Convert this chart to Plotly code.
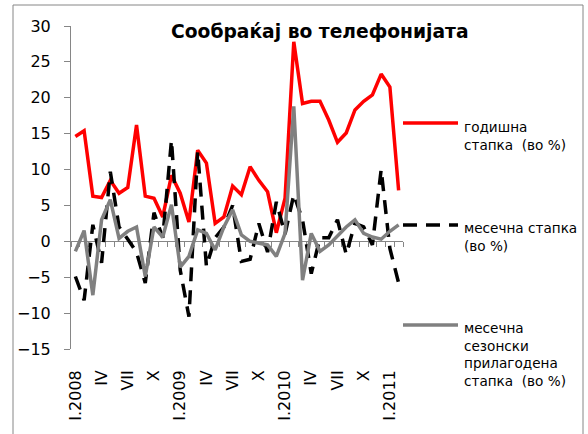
import plotly.graph_objects as go

roman = ["I", "II", "III", "IV", "V", "VI", "VII", "VIII", "IX", "X", "XI", "XII"]
months = [f"{roman[m]}.{y}" for y in (2008, 2009, 2010, 2011) for m in range(12)][:38]

annual = [14.6, 15.4, 6.3, 6.1, 8.5, 6.7, 7.5, 16.2, 6.3, 6.0, 3.4, 9.2, 6.7, 2.7, 12.7, 10.9,
          2.5, 3.4, 7.7, 6.5, 10.4, 8.5, 6.9, 1.2, 6.0, 27.8, 19.2, 19.5, 19.5, 16.9, 13.8, 15.1,
          18.3, 19.5, 20.4, 23.3, 21.5, 7.1]
monthly = [-4.9, -8.2, 2.3, -3.0, 9.7, 2.0, 0.3, -1.5, -5.8, 4.0, 0.5, 14.1, -4.0, -10.5, 12.5, -3.5,
           0.5, 2.0, 5.0, -2.8, -2.5, 2.5, -1.5, 5.5, 1.0, 6.5, 3.0, -4.5, 0.5, 0.5, 3.0, -1.8,
           2.5, 2.0, -0.5, 10.0, -1.0, -5.8]
seasonal = [-1.4, 1.5, -7.5, 3.0, 5.8, 0.4, 1.4, 2.0, -4.9, 2.0, 0.6, 5.1, -3.6, -2.1, 1.6, 1.1,
            -1.2, 2.0, 4.4, 0.9, 0.0, -0.2, -0.5, -2.1, 1.1, 18.8, -5.4, 1.1, -1.4, -0.5, 0.7, 2.0,
            3.0, 1.1, 0.6, 0.3, 1.4, 2.3]

tick_vals = ["I.2008", "IV.2008", "VII.2008", "X.2008", "I.2009", "IV.2009", "VII.2009", "X.2009",
             "I.2010", "IV.2010", "VII.2010", "X.2010", "I.2011"]
tick_text = ["I.2008", "IV", "VII", "X", "I.2009", "IV", "VII", "X", "I.2010", "IV", "VII", "X", "I.2011"]

title = "Сообраќај во телефонијата"
names = ["годишна<br>стапка  (во %)", "месечна стапка<br>(во %)",
         "месечна<br>сезонски<br>прилагодена<br>стапка  (во %)"]

RED, BLACK, GRAY, AX = "#FF0000", "#000000", "#808080", "#868686"
FONT = "DejaVu Sans, Verdana, sans-serif"
DASH = "14px,9px"

fig = go.Figure()
fig.add_trace(go.Scatter(x=months, y=annual, mode="lines", line=dict(color=RED, width=3.5),
                         xaxis="x", yaxis="y", name="annual"))
fig.add_trace(go.Scatter(x=months, y=monthly, mode="lines",
                         line=dict(color=BLACK, width=3.5, dash=DASH),
                         xaxis="x", yaxis="y", name="monthly"))
fig.add_trace(go.Scatter(x=months, y=seasonal, mode="lines", line=dict(color=GRAY, width=3.5),
                         xaxis="x2", yaxis="y", name="seasonal"))

W, H = 588, 434
L, R, T, B = 71, 185, 26, 85
pw, ph = W - L - R, H - T - B


def px(X):
    return (X - L) / pw


def py(Y):
    return (H - B - Y) / ph


fig.update_layout(
    width=W, height=H, margin=dict(l=L, r=R, t=T, b=B, autoexpand=False),
    paper_bgcolor="white", plot_bgcolor="white", showlegend=False,
    font=dict(family=FONT, color="black"),
    xaxis=dict(type="category", categoryorder="array", categoryarray=months,
               range=[-0.5, len(months) - 0.5], tickmode="array", tickvals=tick_vals,
               ticktext=tick_text, tickangle=-90, showline=False, ticks="", showgrid=False,
               zeroline=False, tickfont=dict(size=16, family=FONT), ticklabelstandoff=17,
               automargin=False),
    xaxis2=dict(type="category", categoryorder="array", categoryarray=months, overlaying="x",
                anchor="free", position=1 / 3, range=[-0.5, len(months) - 0.5],
                tickmode="linear", tick0=0, dtick=1, tickson="boundaries", ticks="outside",
                ticklen=5, tickcolor=AX, showline=True, linecolor=AX, linewidth=1,
                showticklabels=False, showgrid=False, zeroline=False, layer="below traces",
                automargin=False),
    yaxis=dict(range=[-15, 30], dtick=5, tick0=0, showgrid=False, zeroline=False,
               showline=True, linecolor=AX, linewidth=1, ticks="outside", ticklen=6,
               tickcolor=AX, tickfont=dict(size=16, family=FONT), ticklabelstandoff=10,
               automargin=False),
)

# chart area frame
fig.add_shape(type="rect", xref="paper", yref="paper", x0=px(13), x1=px(583), y0=py(445), y1=py(5),
              line=dict(color=AX, width=1), fillcolor="rgba(0,0,0,0)", layer="above")

# title
fig.add_annotation(text=f"<b>{title}</b>", xref="paper", yref="paper", x=px(320), y=py(32),
                   xanchor="center", yanchor="middle", showarrow=False,
                   font=dict(size=18.7, family=FONT, color="black"))

# legend
styles = [dict(color=RED, width=3.5), dict(color=BLACK, width=3.5, dash=DASH),
          dict(color=GRAY, width=3.5)]
line_y = [123, 225, 325]
text_y = [135.5, 236.5, 354.5]
for nm, st, ly, ty in zip(names, styles, line_y, text_y):
    fig.add_shape(type="line", xref="paper", yref="paper", x0=px(403), x1=px(458),
                  y0=py(ly), y1=py(ly), line=st)
    fig.add_annotation(text=nm, xref="paper", yref="paper", x=px(462), y=py(ty),
                       xanchor="left", yanchor="middle", align="left", showarrow=False,
                       font=dict(size=13.6, family=FONT, color="black"))

fig.write_html("out.html", config={"displayModeBar": False},
               post_script="document.body.style.margin='0';")
